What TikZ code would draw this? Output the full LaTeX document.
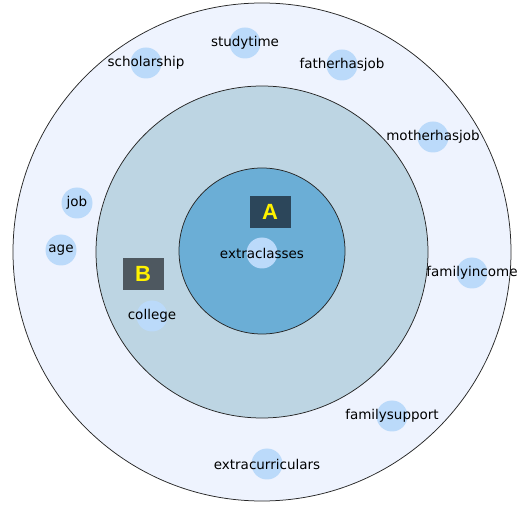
\documentclass[tikz,border=0pt]{standalone}
\usepackage{fontspec}
\setmainfont{DejaVu Sans}
\newfontfamily\tagfont{Liberation Sans}
\usepackage{xcolor}
\usepackage{tikz}
\usetikzlibrary{positioning}
\definecolor{RingOuter}{HTML}{EEF3FE}
\definecolor{RingMid}{HTML}{BDD5E3}
\definecolor{RingCore}{HTML}{6BAED6}
\definecolor{dotBlue}{HTML}{BBDAFA}
\definecolor{BoxA}{HTML}{2C465A}
\definecolor{BoxB}{HTML}{4E5860}

\begin{document}
\begin{tikzpicture}[x=1pt, y=-1pt, font=\fontsize{13.5}{15}\selectfont,
  ring/.style={circle, draw=black!85, line width=0.75pt, inner sep=0pt},
  dot/.style={circle, fill=dotBlue, minimum size=31pt, inner sep=0pt},
  tag/.style={fill=#1, minimum width=41pt, minimum height=32pt, inner sep=0pt,
    text=yellow, font=\tagfont\fontsize{22}{22}\selectfont\bfseries}]
  \useasboundingbox (0,0) rectangle (523,505);
  \node[ring, fill=RingOuter, minimum size=498pt] (outer) at (262,252) {};
  \node[ring, fill=RingMid, minimum size=332pt] (mid) at (262,252) {};
  \node[ring, fill=RingCore, minimum size=166pt] (core) at (262,251) {};
  % outer ring
  \node[dot, label={center:scholarship}] (scholarship) at (146,63) {};
  \node[dot, label={center:studytime}] (studytime) at (245,43) {};
  \node[dot, label={center:fatherhasjob}] (fatherhasjob) at (342,65) {};
  \node[dot, label={center:motherhasjob}] (motherhasjob) at (433,137) {};
  \node[dot, label={center:job}] (job) at (77,203) {};
  \node[dot, label={center:age}] (age) at (61,250) {};
  \node[dot, label={center:familyincome}] (familyincome) at (472,273) {};
  \node[dot, label={center:familysupport}] (familysupport) at (392,416) {};
  \node[dot, label={center:extracurriculars}] (extracurriculars) at (267,464) {};
  % middle ring and core
  \node[dot, label={center:college}] (college) at (152,316) {};
  \node[dot, label={center:extraclasses}] (extraclasses) at (262,253) {};
  \node[tag=BoxA] (tagA) at (270,212) {A};
  \node[tag=BoxB] (tagB) at (143,274) {B};
\end{tikzpicture}
\end{document}
